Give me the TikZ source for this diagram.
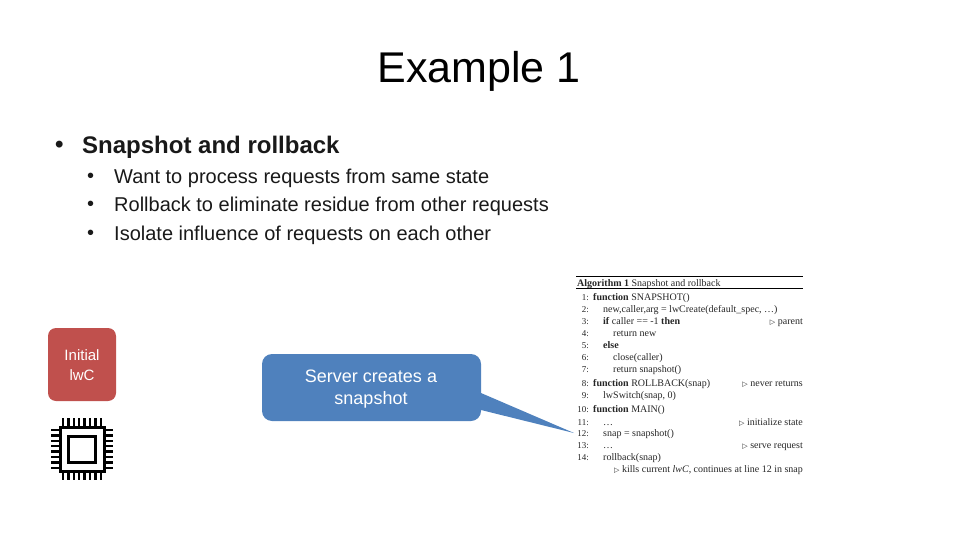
\documentclass[tikz,border=0pt]{standalone}
\usepackage{fontspec}
\setmainfont{Liberation Sans}
\newfontfamily\algfont{Liberation Serif}
\newfontfamily\symfont{DejaVu Sans}
\newcommand{\notemark}{{\symfont\fontsize{7}{10}\selectfont ▷}}
\definecolor{boxred}{HTML}{C0504D}
\definecolor{boxblue}{HTML}{4F81BD}
\tikzset{
  title/.style={anchor=center,inner sep=0pt,font=\fontsize{43}{50}\selectfont,text=black},
  topitem/.style={anchor=west,inner sep=0pt,font=\fontsize{24}{28}\selectfont\bfseries,text=black!90},
  subitem/.style={anchor=west,inner sep=0pt,font=\fontsize{20}{24}\selectfont,text=black!90},
  redbox/.style={rectangle,rounded corners=8pt,fill=boxred,text=white,minimum width=68pt,minimum height=73pt,inner sep=0pt},
  bluebox/.style={rectangle,rounded corners=10pt,fill=boxblue,text=white,minimum width=219pt,minimum height=67pt,inner sep=0pt},
  algline/.style={anchor=base west,inner sep=0pt,font=\algfont\fontsize{10}{11}\selectfont,text=black!85},
  algnum/.style={anchor=base east,inner sep=0pt,font=\algfont\fontsize{9}{10}\selectfont,text=black!85},
  algnote/.style={anchor=base east,inner sep=0pt,font=\algfont\fontsize{10}{11}\selectfont,text=black!85},
  chipline/.style={draw=black,line width=3pt},
  pin/.style={draw=black,line width=2.4pt},
}
\begin{document}
\begin{tikzpicture}[x=1pt,y=-1pt]
\useasboundingbox (0,0) rectangle (960,540);
\node[title] (heading) at (479,71) {Example 1};
\node[topitem] (dot) at (55,147) {•};
\node[topitem] (item) at (82,147) {Snapshot and rollback};
\node[subitem] (dota) at (87,178) {•};
\node[subitem] (itema) at (114,178) {Want to process requests from same state};
\node[subitem] (dotb) at (87,206) {•};
\node[subitem] (itemb) at (114,206) {Rollback to eliminate residue from other requests};
\node[subitem] (dotc) at (87,235) {•};
\node[subitem] (itemc) at (114,235) {Isolate influence of requests on each other};

\node[redbox] (initial) at (82,364.5) {};
\node[align=center,inner sep=0pt,text=white,font=\fontsize{15}{20}\selectfont] (initiallabel) at (82,365) {Initial\\lwC};

\foreach \i in {0,...,7} {
  \draw[pin] (63+\i*5.4,418) -- (63+\i*5.4,427);
  \draw[pin] (63+\i*5.4,471) -- (63+\i*5.4,480);
  \draw[pin] (51,430+\i*5.4) -- (60,430+\i*5.4);
  \draw[pin] (104,430+\i*5.4) -- (113,430+\i*5.4);
}
\node[chipline,fill=white,minimum width=44pt,minimum height=44pt,inner sep=0pt] (chip) at (82,449) {};
\node[chipline,minimum width=27pt,minimum height=26pt,inner sep=0pt] (core) at (82,449.5) {};

\coordinate (tailtop) at (481,393);
\coordinate (tailtip) at (574,433);
\coordinate (tailbot) at (481,410);
\fill[boxblue] (tailtop) -- (tailtip) -- (tailbot) -- cycle;
\node[bluebox] (callout) at (371.5,387.5) {};
\node[align=center,inner sep=0pt,text=white,font=\fontsize{18}{22}\selectfont] (calloutlabel) at (371,389) {Server creates a\\snapshot};

\coordinate (rulea) at (576,276);
\coordinate (ruleb) at (803,276);
\coordinate (rulec) at (576,288);
\coordinate (ruled) at (803,288);
\draw[line width=.6pt] (rulea) -- (ruleb);
\draw[line width=.6pt] (rulec) -- (ruled);
\node[algline] (algtitle) at (577,286) {\textbf{Algorithm 1} Snapshot and rollback};

\foreach \n/\y in {1/300,2/312,3/324,4/336,5/348,6/360,7/372,8/386,9/398,10/412,11/425,12/436,13/448,14/460}
  \node[algnum] (num\n) at (589,\y) {\n:};

\node[algline] (linea) at (593,300) {\textbf{function} SNAPSHOT()};
\node[algline] (lineb) at (603,312) {new,caller,arg = lwCreate(default\_spec, \dots)};
\node[algline] (linec) at (603,324) {\textbf{if} caller == -1 \textbf{then}};
\node[algline] (lined) at (613,336) {return new};
\node[algline] (linee) at (603,348) {\textbf{else}};
\node[algline] (linef) at (613,360) {close(caller)};
\node[algline] (lineg) at (613,372) {return snapshot()};
\node[algline] (lineh) at (593,386) {\textbf{function} ROLLBACK(snap)};
\node[algline] (linei) at (603,398) {lwSwitch(snap, 0)};
\node[algline] (linej) at (593,412) {\textbf{function} MAIN()};
\node[algline] (linek) at (603,425) {\dots};
\node[algline] (linel) at (603,436) {snap = snapshot()};
\node[algline] (linem) at (603,448) {\dots};
\node[algline] (linen) at (603,460) {rollback(snap)};
\node[algline] (lineo) at (614,472) {\notemark{} kills current \textit{lwC}, continues at line 12 in snap};

\node[algnote] (notea) at (803,324) {\notemark{} parent};
\node[algnote] (noteb) at (803,386) {\notemark{} never returns};
\node[algnote] (notec) at (803,425) {\notemark{} initialize state};
\node[algnote] (noted) at (803,448) {\notemark{} serve request};
\end{tikzpicture}
\end{document}
